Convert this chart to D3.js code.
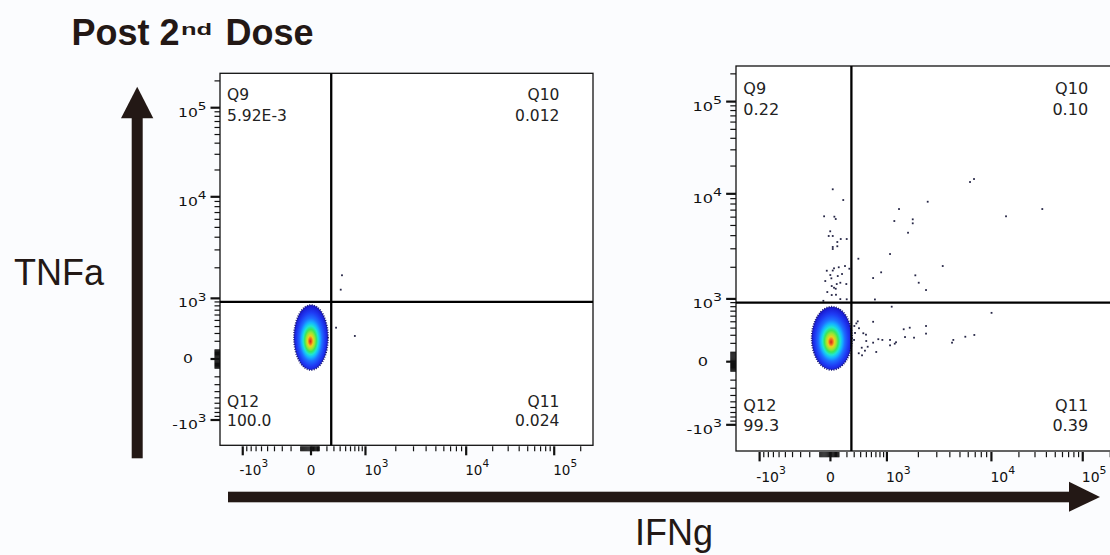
<!DOCTYPE html>
<html><head><meta charset="utf-8">
<script src="https://cdn.jsdelivr.net/npm/d3@7"></script>
<style>
html,body{margin:0;padding:0;background:#fbfcfe;}
svg{display:block;}
</style>
</head><body>
<svg id="chart" width="1110" height="555"></svg>
<script>
// ---------------- data ----------------
const quadrantNames = ["Q9", "Q10", "Q11", "Q12"];
const leftQuadValues = ["5.92E-3", "0.012", "0.024", "100.0"];
const rightQuadValues = ["0.22", "0.10", "0.39", "99.3"];

const gateX = 260;   // IFNg gate
const gateY = 900;   // TNFa gate

const majorTickValues = [-1000, 0, 1000, 10000, 100000];
const tickLabelBase = ["-10", "0", "10", "10", "10"];
const tickLabelExp = ["3", "", "3", "4", "5"];

// main population extents (IFNg low..high, TNFa low..high)
const leftPopX = [-169, 215];
const leftPopY = [-121, 822];
const rightPopX = [-180, 268];
const rightPopY = [-87, 800];

// sparse events outside the main population
const leftEventsX = [432, 410, 333, 700];
const leftEventsY = [1688, 1218, 383, 267];

const rightEventsX = [
  27, 153, -59, 46, 62, -2, -16, 27, 122, 197, 81, 27, 27, 81, 175, 98, 42, 27, 232, -34,
  138, 86, -1, 11, -48, 117, 74, 192, 15, 42, -29, 62, 15, 65, 117, -66, 197,
  6240, 6815, 2456, 36060, 14450, 1305, 1766, 1766, 1177, 1592, 363, 1071, 3420, 832, 637,
  1870, 2015, 2367, 677,
  1111, 10030, 637, 2367, 2367, 1653, 1447, 1817, 1490, 6860, 5625, 4318, 4198, 1071, 1188,
  1222, 1071, 865, 637, 758, 708, 493, 498, 525, 418, 445, 369, 423, 332, 353, 373, 474,
  302, 312, 298
];
const rightEventsY = [
  11200, 8730, 6110, 6060, 5760, 4400, 3970, 3970, 3715, 3715, 3480, 3120, 2985, 3170, 2056,
  2000, 1955, 1863, 1938, 1855, 1726, 1651, 1688, 1570, 1480, 1426, 1386, 1386, 1326, 1278,
  1163, 1250, 1089, 1096, 995, 948, 990,
  13430, 14470, 8410, 7165, 6110, 7165, 5718, 5240, 5510, 4265, 2413, 2674, 2056, 1791, 1580,
  1677, 1426, 1215, 985,
  800, 665, 500, 432, 322, 406, 383, 269, 277, 304, 281, 241, 208, 241, 196,
  213, 177, 241, 208, 250, 103, 308, 228, 161, 150, 327, 89, 67, 473, 507, 398, 117,
  432, 331, 241
];

// ---------------- layout ----------------
const ink = "#231815";
const xKnotFrac = [0.061, 0.244, 0.390, 0.660, 0.896];
const yKnotFrac = [0.932, 0.768, 0.605, 0.332, 0.0925];

// biexponential-like display transform
function T(v) {
  const a = Math.abs(v);
  const t = a <= 1000 ? Math.asinh(a / 400) / Math.asinh(2.5) : 1 + Math.log10(a / 1000);
  return Math.sign(v) * t;
}

const svg = d3.select("#chart");

const defs = svg.append("defs");
const grad = defs.append("radialGradient").attr("id", "dens")
  .attr("cx", "50%").attr("cy", "52%").attr("r", "50%").attr("fx", "48%").attr("fy", "56%");
[[0, "#c8281e"], [0.08, "#f0641e"], [0.16, "#ecd21e"], [0.25, "#9ee632"], [0.34, "#3ce65a"],
 [0.44, "#1ee6d2"], [0.54, "#14b4ff"], [0.66, "#1e6eff"], [0.82, "#1e3cf5"], [1, "#1a1ad2"]]
  .forEach(([o, c]) => grad.append("stop").attr("offset", o).attr("stop-color", c));

function drawPlot(cfg) {
  const {x0, y0, w, h, s, quadValues, popX, popY, evX, evY} = cfg;
  const g = svg.append("g");
  const x = d3.scaleLinear().domain(majorTickValues.map(T)).range(xKnotFrac.map(f => x0 + f * w));
  const y = d3.scaleLinear().domain(majorTickValues.map(T)).range(yKnotFrac.map(f => y0 + f * h));
  const X = v => x(T(v)), Y = v => y(T(v));

  // frame
  g.append("rect").attr("x", x0).attr("y", y0).attr("width", w).attr("height", h)
    .attr("fill", "#ffffff").attr("stroke", "#111").attr("stroke-width", 1.3);

  // minor ticks
  const minor = [];
  for (let k = 1; k <= 9; k++) { minor.push(k * 10, -k * 10, k * 100, -k * 100); }
  for (let k = 2; k <= 9; k++) { minor.push(k * 1000, k * 10000); }
  minor.push(200000);

  const ax = g.append("g").attr("stroke", "#111");
  minor.forEach(v => {
    ax.append("line").attr("x1", X(v)).attr("x2", X(v)).attr("y1", y0 + h + 1).attr("y2", y0 + h + 6 * s).attr("stroke-width", 1.2);
    ax.append("line").attr("y1", Y(v)).attr("y2", Y(v)).attr("x1", x0 - 5.5 * s).attr("x2", x0).attr("stroke-width", 1.2);
  });
  majorTickValues.forEach(v => {
    ax.append("line").attr("x1", X(v)).attr("x2", X(v)).attr("y1", y0 + h + 1).attr("y2", y0 + h + 10 * s).attr("stroke-width", 2.2);
    ax.append("line").attr("y1", Y(v)).attr("y2", Y(v)).attr("x1", x0 - 9.5 * s).attr("x2", x0).attr("stroke-width", 2.2);
  });

  // x tick labels
  majorTickValues.forEach((v, i) => {
    const cx = tickLabelExp[i] ? X(v) + 11 * s : X(v);
    const t = g.append("text").attr("x", cx).attr("y", y0 + h + 30 * s)
      .attr("text-anchor", "middle").attr("font-family", "DejaVu Sans").attr("font-size", 13.5 * s)
      .attr("fill", "#111");
    t.append("tspan").text(tickLabelBase[i]);
    if (tickLabelExp[i]) t.append("tspan").attr("dy", -8 * s).attr("font-size", 10.5 * s).text(tickLabelExp[i]);
  });

  // y tick labels
  majorTickValues.forEach((v, i) => {
    const isZero = !tickLabelExp[i];
    const rx = isZero ? x0 - 27 * s : x0 - 13.5 * s;
    const by = isZero ? Y(v) + 4.5 * s : Y(v) + 9 * s;
    const gg = g.append("g").attr("transform", `translate(${rx},${by}) scale(1.3,1)`);
    const t = gg.append("text").attr("text-anchor", "end").attr("font-family", "DejaVu Sans")
      .attr("font-size", 12 * s).attr("fill", "#111");
    t.append("tspan").text(tickLabelBase[i]);
    if (!isZero) t.append("tspan").attr("dy", -6.7 * s).attr("font-size", 10.5 * s).text(tickLabelExp[i]);
  });

  // population
  const ex0 = X(popX[0]), ex1 = X(popX[1]), ey0 = Y(popY[1]), ey1 = Y(popY[0]);
  g.append("ellipse").attr("cx", (ex0 + ex1) / 2).attr("cy", (ey0 + ey1) / 2)
    .attr("rx", (ex1 - ex0) / 2).attr("ry", (ey1 - ey0) / 2)
    .attr("fill", "url(#dens)")
    .attr("stroke", "#1c1c70").attr("stroke-width", 1.8).attr("stroke-dasharray", "1 1.4");

  // sparse events
  g.append("g").selectAll("rect").data(evX.map((v, i) => [v, evY[i]])).join("rect")
    .attr("x", d => X(d[0]) - 0.9).attr("y", d => Y(d[1]) - 0.9)
    .attr("width", 1.8).attr("height", 1.8).attr("fill", "#262646");

  // gates
  g.append("line").attr("x1", X(gateX)).attr("x2", X(gateX)).attr("y1", y0).attr("y2", y0 + h)
    .attr("stroke", "#000").attr("stroke-width", 2.3);
  g.append("line").attr("x1", x0).attr("x2", x0 + w).attr("y1", Y(gateY)).attr("y2", Y(gateY))
    .attr("stroke", "#000").attr("stroke-width", 2.3);

  // quadrant labels
  const qpos = [
    {xf: 0.019, anchor: "start", yf: [0.072, 0.128]},
    {xf: 0.910, anchor: "end", yf: [0.072, 0.128]},
    {xf: 0.910, anchor: "end", yf: [0.897, 0.949]},
    {xf: 0.019, anchor: "start", yf: [0.897, 0.949]}
  ];
  quadrantNames.forEach((q, i) => {
    const p = qpos[i];
    [q, quadValues[i]].forEach((txt, j) => {
      g.append("text").attr("x", x0 + p.xf * w).attr("y", y0 + p.yf[j] * h)
        .attr("text-anchor", p.anchor).attr("font-family", "DejaVu Sans")
        .attr("font-size", 15.5 * s).attr("fill", "#222").text(txt);
    });
  });
}

drawPlot({x0: 220, y0: 73.3, w: 373, h: 372, s: 1, quadValues: leftQuadValues,
  popX: leftPopX, popY: leftPopY, evX: leftEventsX, evY: leftEventsY});
drawPlot({x0: 736, y0: 66, w: 387, h: 385, s: 1.037, quadValues: rightQuadValues,
  popX: rightPopX, popY: rightPopY, evX: rightEventsX, evY: rightEventsY});

// ---------------- annotations ----------------
const font = "Liberation Sans, Arial, Helvetica, sans-serif";
svg.append("text").attr("x", 71.5).attr("y", 45).attr("font-family", font).attr("font-weight", "bold")
  .attr("font-size", 36).attr("fill", ink).text("Post 2");
svg.append("g").attr("transform", "translate(181,35) scale(1.5,1)")
  .append("text").attr("font-family", font).attr("font-weight", "bold")
  .attr("font-size", 17).attr("fill", ink).text("nd");
svg.append("text").attr("x", 225.5).attr("y", 45).attr("font-family", font).attr("font-weight", "bold")
  .attr("font-size", 36).attr("fill", ink).text("Dose");

svg.append("text").attr("x", 14).attr("y", 285).attr("font-family", font)
  .attr("font-size", 36).attr("fill", ink).text("TNFa");
svg.append("text").attr("x", 674).attr("y", 545).attr("text-anchor", "middle").attr("font-family", font)
  .attr("font-size", 36).attr("fill", ink).text("IFNg");

// arrows
svg.append("rect").attr("x", 131.7).attr("y", 116).attr("width", 11).attr("height", 342.3).attr("fill", ink);
svg.append("polygon").attr("points", "137.2,86.7 153.3,118.3 121,118.3").attr("fill", ink);
svg.append("rect").attr("x", 228).attr("y", 491.7).attr("width", 843).attr("height", 10.6).attr("fill", ink);
svg.append("polygon").attr("points", "1100,497 1069,481.7 1069,511.7").attr("fill", ink);
</script>
</body></html>
